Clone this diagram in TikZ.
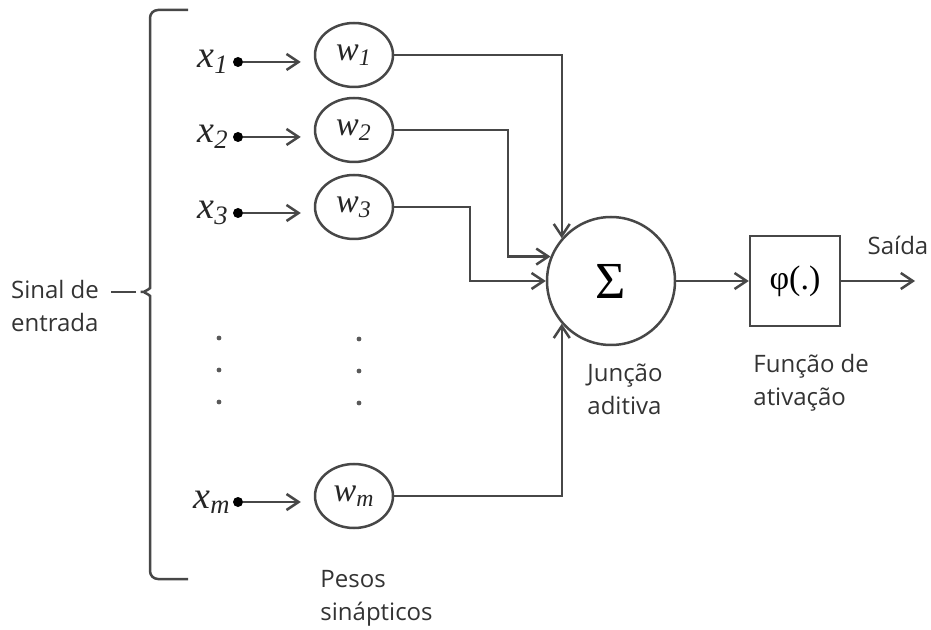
\documentclass[tikz,border=0pt]{standalone}
\usepackage{fontspec}
\newfontfamily\labelfont{Open Sans}
\newfontfamily\symfont{Liberation Serif}
\usetikzlibrary{arrows.meta,positioning,shapes.geometric}

\begin{document}
\begin{tikzpicture}[
        x=0.5pt, y=-0.5pt,
        ln/.style={line width=1.25pt, black!72},
        ar/.style={ln, -{Straight Barb[length=6pt, width=8pt, line width=1.25pt]}},
        wt/.style={ellipse, draw, ln, minimum width=39pt, minimum height=32pt,
                   inner sep=0pt, text=black!85, font=\symfont\itshape\fontsize{17}{17}\selectfont},
        inp/.style={anchor=east, inner sep=1pt, text=black!85,
                    font=\symfont\itshape\fontsize{19}{19}\selectfont},
        pt/.style={circle, fill=black, inner sep=0pt, minimum size=5pt},
        lbl/.style={font=\labelfont\fontsize{12}{16.5}\selectfont, align=left,
                    inner sep=0pt, text=black!80}
      ]
        \useasboundingbox (0,0) rectangle (931,630);
        \node[lbl] (sinal) at (55,306) {Sinal de\\entrada};
        \coordinate (tip) at (136,292);
        \draw[ln, rounded corners=4pt] (188,10) -- (150,10) -- (150,280)
            .. controls (150,289) and (143,292) .. (tip)
            .. controls (143,292) and (150,295) .. (150,304) -- (150,579) -- (188,579);
        \draw[ln] (tip) -- ([xshift=6pt]tip -| sinal.east);

        \node[inp] (x1) at (231,62)  {x\textsubscript{1}};
        \node[inp] (x2) at (231,137) {x\textsubscript{2}};
        \node[inp] (x3) at (231,213) {x\textsubscript{3}};
        \node[inp] (xm) at (233,502) {x\textsubscript{m}};
        \node[pt] (d1) at (238,62)  {};
        \node[pt] (d2) at (238,137) {};
        \node[pt] (d3) at (238,213) {};
        \node[pt] (dm) at (238,502) {};

        \node[wt] (w1) at (354,55)  {w\textsubscript{1}};
        \node[wt] (w2) at (354,130) {w\textsubscript{2}};
        \node[wt] (w3) at (354,207) {w\textsubscript{3}};
        \node[wt] (wm) at (354,496) {w\textsubscript{m}};

        \draw[ar, shorten >=6.5pt] (d1) -- (d1 -| w1.west);
        \draw[ar, shorten >=6.5pt] (d2) -- (d2 -| w2.west);
        \draw[ar, shorten >=6.5pt] (d3) -- (d3 -| w3.west);
        \draw[ar, shorten >=6.5pt] (dm) -- (dm -| wm.west);

        \fill[black!65] (219,338) circle (1.2pt) (219,370) circle (1.2pt) (219,402) circle (1.2pt);
        \fill[black!65] (359,339) circle (1.2pt) (359,371) circle (1.2pt) (359,403) circle (1.2pt);

        \node[circle, draw, ln, minimum size=64pt, inner sep=0pt, text=black,
              font=\symfont\fontsize{26}{26}\selectfont] (sum) at (611,281) {Σ};
        \node[draw, ln, minimum width=45pt, minimum height=45pt, inner sep=0pt, text=black,
              font=\symfont\fontsize{17}{17}\selectfont] (phi) at (795,281) {φ(.)};
        \coordinate (c2) at (508,0);
        \coordinate (c3) at (470,0);
        \coordinate (out) at (915,281);

        \draw[ar] (w1.east) -| (sum.139);
        \draw[ar] (w2.east) -| (c2 |- sum.158) -- (sum.158);
        \draw[ar] (w3.east) -| (c3 |- sum.west) -- (sum.west);
        \draw[ar] (wm.east) -| (sum.221);
        \draw[ar] (sum) -- (phi);
        \draw[ar] (phi) -- (out);

        \node[lbl] (saida) at (898,245) {Saída};
        \node[lbl, anchor=west] (juncao) at (587,389) {Junção\\aditiva};
        \node[lbl, anchor=west] (funcao) at (753,383) {Função de\\ativação};
        \node[lbl, anchor=west] (pesos) at (320,598) {Pesos\\sinápticos};
      \end{tikzpicture}
\end{document}
